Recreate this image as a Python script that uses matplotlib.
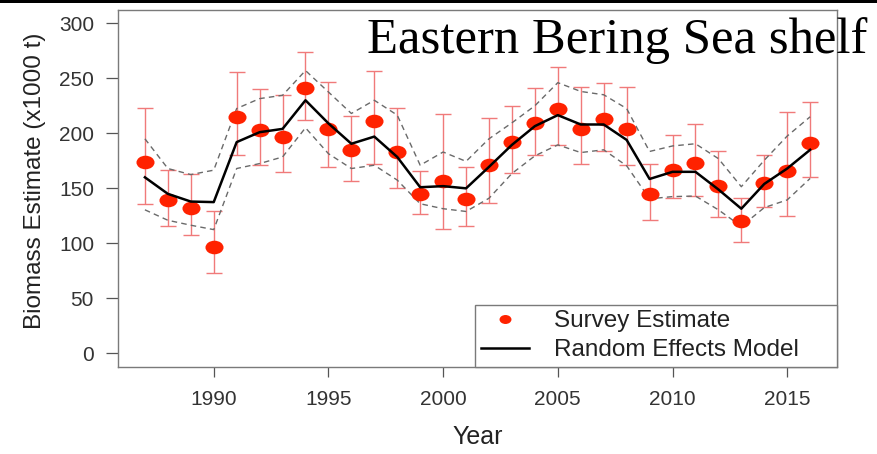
import matplotlib
matplotlib.use("Agg")
import matplotlib.pyplot as plt
import numpy as np
from matplotlib.path import Path
from matplotlib.transforms import Affine2D
from matplotlib.lines import Line2D
from matplotlib.patches import Rectangle

years = np.arange(1987, 2017)

# survey estimates with their error bars (x1000 t)
survey = [174, 139.5, 132.5, 97, 214.5, 203, 197, 241, 204, 184.5,
          211, 183, 145, 157, 140, 171, 192, 209, 222, 204,
          213, 204, 145, 167, 173, 152, 120, 154.5, 165.5, 191.5]
survey_hi = [223, 167, 163, 129, 256, 240, 234.5, 274, 247, 215.5,
             257, 223, 166, 217.5, 169.5, 213.5, 225, 241.5, 260.5, 242.5,
             245.5, 242.5, 172, 198.5, 208, 184, 141, 180, 219.5, 228]
survey_lo = [136, 116, 108, 73, 180, 171.5, 165, 212.5, 169, 157,
             172.5, 150, 127, 113, 115.5, 137, 163.5, 180.5, 189.5, 172.5,
             184, 171, 121, 141, 143, 124, 101.5, 133, 125, 160.5]

# random effects model fit and its interval
model = [160, 145, 138, 137.5, 192, 201, 204, 230, 209, 190.5,
         197, 178.5, 151, 152, 150, 169.5, 189.5, 206.5, 216.5, 208,
         208, 194, 158.5, 165, 165, 149, 131.5, 154, 168, 185]
model_hi = [195, 168, 162.5, 166.5, 222.5, 231.5, 234.5, 257, 237.5, 218,
            230, 216.5, 171, 183, 174.5, 195, 209.5, 225, 246, 238,
            235, 222.5, 183.5, 188.5, 190.5, 177, 151.5, 175.5, 197.5, 215]
model_lo = [130.5, 121, 116.5, 112.5, 168, 172.5, 178.5, 205, 181.5, 168,
            171, 157.5, 136, 131.5, 129, 141, 163.5, 179.5, 189.5, 182.5,
            185, 170.5, 140.5, 142.5, 143, 130.5, 115.5, 132.5, 139.5, 159]

xticks = [1990, 1995, 2000, 2005, 2010, 2015]
yticks = [0, 50, 100, 150, 200, 250, 300]

red = "#ff2200"
sans = "Liberation Sans"

# the source image is a bit stretched sideways, so the dots are ellipses
oval = Path.unit_circle().transformed(Affine2D().scale(1.33, 1.0))

fig = plt.figure(figsize=(8.77, 4.54), dpi=100)
ax = fig.add_axes([0.1349, 0.1923, 0.8192, 0.7857])

s = np.array(survey)
yerr = [s - np.array(survey_lo), np.array(survey_hi) - s]
ax.errorbar(years, survey, yerr=yerr, fmt="none", ecolor="#f07a7a",
            elinewidth=1.0, capsize=5.8, capthick=1.0, zorder=2)
ax.plot(years, model_hi, color="#6a6a6a", lw=1.0, ls=(0, (4, 3)), zorder=2)
ax.plot(years, model_lo, color="#6a6a6a", lw=1.0, ls=(0, (4, 3)), zorder=2)
ax.plot(years, survey, ls="none", marker=oval, markersize=13,
        color=red, markeredgewidth=0, zorder=3)
ax.plot(years, model, color="black", lw=1.8, zorder=4)

ax.set_xlim(1985.84, 2017.16)
ax.set_ylim(-12, 312)
ax.set_xticks(xticks)
ax.set_yticks(yticks)
ax.set_xticklabels([str(v) for v in xticks], family=sans, fontsize=15, color="#333333")
ax.set_yticklabels([str(v) for v in yticks], family=sans, fontsize=15, color="#333333")
ax.tick_params(axis="y", direction="out", length=8.5, width=0.9, color="#555555", pad=9)
ax.tick_params(axis="x", direction="out", length=7.5, width=0.9, color="#555555", pad=9)
for sp in ax.spines.values():
    sp.set_color("#7a7a7a")
    sp.set_linewidth(1.0)

ax.set_xlabel("Year", family=sans, fontsize=18, color="#222222", va="center")
ax.xaxis.set_label_coords(0.5, -0.197)
ax.set_ylabel("Biomass Estimate (x1000 t)", family=sans, fontsize=17.5,
              color="#222222", va="center")
ax.yaxis.set_label_coords(-0.116, 0.52)

handles = [Line2D([], [], ls="none", marker=oval, markersize=8.6, color=red,
                  markeredgewidth=0),
           Line2D([], [], color="black", lw=1.8)]
leg = ax.legend(handles, ["Survey Estimate", "Random Effects Model"],
                loc="lower left", bbox_to_anchor=(0.4965, 0.0, 0.5035, 0.1794),
                mode="expand", borderaxespad=0, fancybox=False, framealpha=1,
                edgecolor="#7a7a7a", prop={"family": sans, "size": 17.5},
                handlelength=2.0, handletextpad=1.0, labelspacing=0.28,
                borderpad=0.23)
leg.get_frame().set_linewidth(1.0)
for t in leg.get_texts():
    t.set_color("#222222")

fig.text(366.7 / 877, 1 - 53.3 / 454, "Eastern Bering Sea shelf",
         family="Liberation Serif", fontsize=36.5, ha="left", va="baseline",
         color="black")

# thick black rule along the top edge of the slide crop
fig.patches.append(Rectangle((0, 1 - 3 / 454), 1, 3 / 454, transform=fig.transFigure,
                             facecolor="black", edgecolor="none"))

fig.savefig("out.png", dpi=100)
